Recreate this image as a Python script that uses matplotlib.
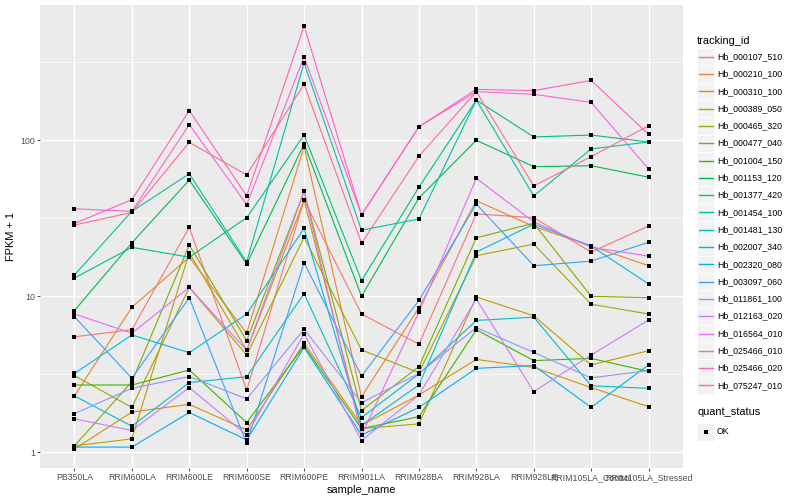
import numpy as np
import matplotlib
matplotlib.use('Agg')
import matplotlib.pyplot as plt
from matplotlib.lines import Line2D
from matplotlib.patches import Rectangle

plt.rcParams['font.family'] = ['Liberation Sans', 'DejaVu Sans']

# samples on the x axis
samples = ['PB350LA', 'RRIM600LA', 'RRIM600LE', 'RRIM600SE', 'RRIM600PE',
           'RRIM901LA', 'RRIM928BA', 'RRIM928LA', 'RRIM928LE',
           'RRIM105LA_Control', 'RRIM105LA_Stressed']

# FPKM + 1 per gene (same order as samples)
hb_000107_510 = [5.5, 6.1, 27.7, 2.5, 41.4, 7.7, 4.93, 33.7, 31.9, 19.2, 28.2]
hb_000210_100 = [2.3, 8.5, 17.8, 5.8, 91, 2.27, 8.45, 41, 28, 21, 15.7]
hb_000310_100 = [1.05, 1.81, 2.03, 1.39, 5.0, 1.49, 2.33, 3.94, 3.5, 2.6, 1.96]
hb_000389_050 = [1.1, 1.22, 19.0, 4.5, 41.4, 1.42, 1.52, 9.9, 7.5, 3.63, 4.48]
hb_000465_320 = [3.1, 1.94, 11.4, 4.2, 23.9, 4.53, 3.24, 18.2, 21.6, 8.9, 7.7]
hb_000477_040 = [1.1, 2.83, 21.3, 5.2, 47, 1.85, 3.54, 23.7, 29.4, 10, 9.8]
hb_001004_150 = [2.7, 2.7, 3.37, 1.55, 4.8, 1.42, 1.69, 6.1, 3.87, 4.0, 3.3]
hb_001153_120 = [8.1, 22, 55.6, 16.1, 94.7, 10, 42.7, 100, 67.7, 68.7, 58]
hb_001377_420 = [13.1, 20.6, 17.8, 31.9, 108, 12.6, 50, 181, 105, 108, 97.5]
hb_001454_100 = [13.7, 35, 61, 16.6, 313, 26.5, 31.3, 181, 44, 88, 97.5]
hb_001481_130 = [2.3, 1.47, 2.8, 3.05, 10.4, 1.67, 3.18, 7.0, 7.35, 2.67, 2.57]
hb_002007_340 = [3.2, 5.65, 4.35, 7.7, 27.2, 1.49, 2.7, 19.2, 29, 21, 12.0]
hb_002320_080 = [1.08, 1.08, 1.8, 1.2, 4.7, 1.29, 1.94, 3.45, 3.6, 1.94, 3.63]
hb_003097_060 = [7.4, 2.98, 9.78, 1.14, 16.4, 3.08, 9.4, 39, 15.7, 16.8, 22.2]
hb_011861_100 = [1.77, 2.57, 3.06, 2.2, 6.15, 2.08, 3.2, 6.3, 4.37, 3.0, 3.34]
hb_012163_020 = [1.64, 1.38, 2.6, 1.29, 5.75, 1.19, 2.33, 9.6, 2.45, 4.2, 7.05]
hb_016564_010 = [7.7, 5.8, 11.4, 4.5, 47, 1.29, 7.9, 57, 30, 20.6, 18.1]
hb_025466_010 = [36.4, 35, 126, 38.7, 342, 33.2, 122, 205, 197, 175, 65.5]
hb_025466_020 = [29.3, 41.6, 155, 44, 539, 33.2, 122, 212, 208, 242, 109]
hb_075247_010 = [28.6, 34.5, 97, 60, 229, 21.9, 79, 205, 51, 78.5, 124]

tracking_ids = ['Hb_000107_510', 'Hb_000210_100', 'Hb_000310_100', 'Hb_000389_050',
                'Hb_000465_320', 'Hb_000477_040', 'Hb_001004_150', 'Hb_001153_120',
                'Hb_001377_420', 'Hb_001454_100', 'Hb_001481_130', 'Hb_002007_340',
                'Hb_002320_080', 'Hb_003097_060', 'Hb_011861_100', 'Hb_012163_020',
                'Hb_016564_010', 'Hb_025466_010', 'Hb_025466_020', 'Hb_075247_010']
series = [hb_000107_510, hb_000210_100, hb_000310_100, hb_000389_050, hb_000465_320,
          hb_000477_040, hb_001004_150, hb_001153_120, hb_001377_420, hb_001454_100,
          hb_001481_130, hb_002007_340, hb_002320_080, hb_003097_060, hb_011861_100,
          hb_012163_020, hb_016564_010, hb_025466_010, hb_025466_020, hb_075247_010]

# ggplot hue palette for 20 levels
colors = ['#F8766D', '#EA8331', '#D89000', '#C09B00', '#A3A500', '#7CAE00', '#39B600',
          '#00BB4E', '#00BF7D', '#00C1A3', '#00BFC4', '#00BAE0', '#00B0F6', '#35A2FF',
          '#9590FF', '#C77CFF', '#E76BF3', '#FA62DB', '#FF62BC', '#FF6C91']

W, H = 800, 500
fig = plt.figure(figsize=(W / 100, H / 100), dpi=100)

def fx(x):
    return x / W

def fy(y):
    return 1 - y / H

ax = fig.add_axes([fx(40), fy(468), fx(683) - fx(40), fy(5) - fy(468)])
ax.set_facecolor('#EBEBEB')
for s in ax.spines.values():
    s.set_visible(False)

x = np.arange(len(samples))
for vals, col in zip(series, colors):
    ax.plot(x, vals, color=col, lw=0.8, zorder=3)
for vals in series:
    ax.plot(x, vals, ls='none', marker='s', ms=2.7, mew=0, color='black', zorder=4)

ax.set_yscale('log')
ax.set_ylim(10 ** -0.1006, 10 ** 2.867)
ax.set_xlim(-0.6, len(samples) - 0.4)
ax.set_yticks([1, 10, 100])
ax.set_yticklabels(['1', '10', '100'])
ax.set_yticks([10 ** 0.5, 10 ** 1.5, 10 ** 2.5], minor=True)
ax.yaxis.set_minor_formatter(matplotlib.ticker.NullFormatter())
ax.set_xticks(x)
ax.set_xticklabels(samples)
ax.grid(True, which='major', color='white', lw=1.0, zorder=0)
ax.grid(True, which='minor', axis='y', color='white', lw=0.5, zorder=0)
ax.set_axisbelow(True)
ax.tick_params(which='major', length=2.2, width=0.6, color='#333333',
               labelsize=6.3, labelcolor='#4D4D4D', pad=1.5)
ax.tick_params(which='minor', length=0)

ax.set_xlabel('sample_name', fontsize=7.9, labelpad=2)
ax.set_ylabel('FPKM + 1', fontsize=7.9, labelpad=3)

# legend drawn in pixel space like ggplot's guide
fig.text(fx(697), fy(40.5), 'tracking_id', fontsize=7.9, va='center', ha='left')
for i, (name, col) in enumerate(zip(tracking_ids, colors)):
    yc = 56.7 + i * 17.3
    fig.patches.append(Rectangle((fx(697), fy(yc + 8.6)), fx(17.3), 17.3 / H,
                                 transform=fig.transFigure, facecolor='#F2F2F2',
                                 edgecolor='white', lw=0.5, zorder=1))
    fig.lines.append(Line2D([fx(698.5), fx(712.5)], [fy(yc), fy(yc)],
                            transform=fig.transFigure, color=col, lw=1.0, zorder=5))
    fig.text(fx(717), fy(yc), name, fontsize=6.3, va='center', ha='left')

fig.text(fx(697), fy(411.7), 'quant_status', fontsize=7.9, va='center', ha='left')
fig.patches.append(Rectangle((fx(697), fy(432 + 8.6)), fx(17.3), 17.3 / H,
                             transform=fig.transFigure, facecolor='#F2F2F2',
                             edgecolor='white', lw=0.5, zorder=1))
fig.lines.append(Line2D([fx(705.6)], [fy(432)], transform=fig.transFigure,
                        ls='none', marker='s', ms=2.7, mew=0, color='black', zorder=5))
fig.text(fx(717), fy(432), 'OK', fontsize=6.3, va='center', ha='left')

fig.savefig('out.png', dpi=100)
